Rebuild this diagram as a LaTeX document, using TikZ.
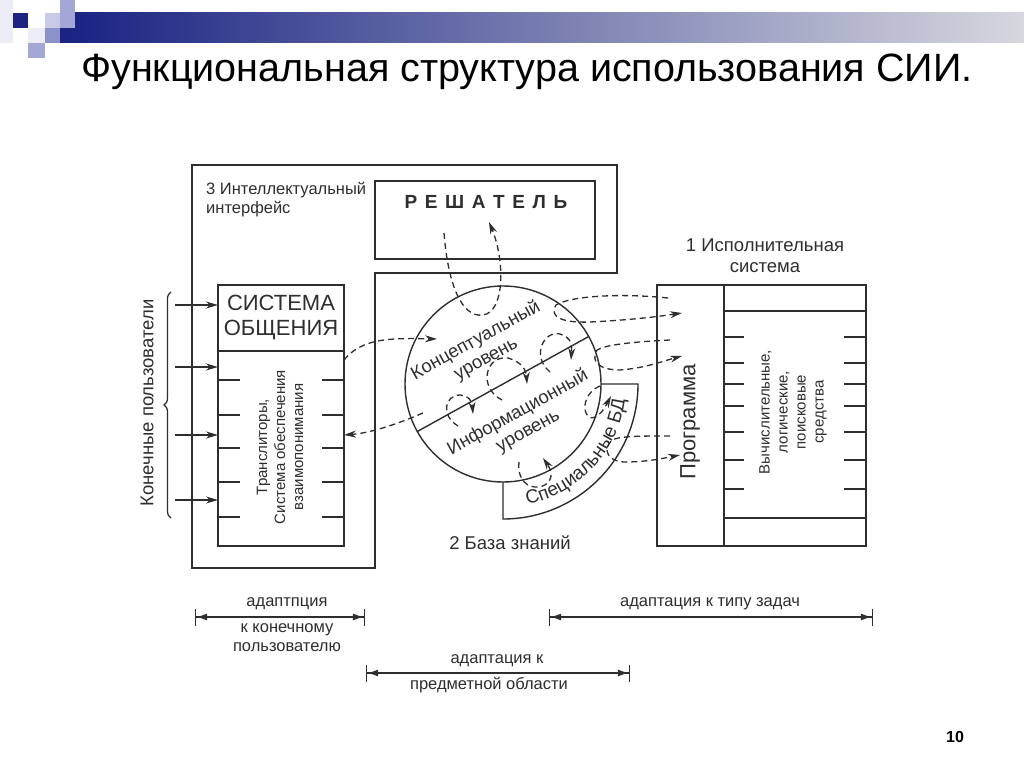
\documentclass[tikz,border=0pt]{standalone}
\usepackage{fontspec}
\setmainfont{Liberation Sans}
\usepackage{xcolor}
\definecolor{ink}{HTML}{2E2E2E}
\definecolor{navy}{HTML}{1B2483}
\definecolor{barend}{HTML}{D6D7DE}
\definecolor{pale}{HTML}{ECEDF7}
\definecolor{lilac}{HTML}{C7C9E6}
\definecolor{lav}{HTML}{A3A7D5}
\definecolor{lavdark}{HTML}{8C91C8}
\usetikzlibrary{arrows.meta,positioning,calc,decorations.text,decorations.pathreplacing}
\tikzset{
  >={Stealth[length=12pt,width=7pt]},
  frame/.style  ={draw=ink,line width=1.4pt},
  box/.style    ={draw=ink,line width=1.4pt,fill=none,inner sep=0pt,outer sep=0pt},
  lbl/.style    ={font=\fontsize{16.5}{19}\selectfont,text=ink,align=center,inner sep=0pt},
  lblsm/.style  ={font=\fontsize{15}{18}\selectfont,text=ink,align=center,inner sep=0pt},
  lblmd/.style  ={font=\fontsize{18.5}{21}\selectfont,text=ink,align=center,inner sep=0pt},
  lblbig/.style ={font=\fontsize{22}{25}\selectfont,text=ink,align=center,inner sep=0pt},
  flow/.style   ={->,draw=ink,line width=1.3pt,dash pattern=on 6pt off 4pt},
  feed/.style   ={->,draw=ink,line width=1.3pt},
  span/.style   ={{Bar[width=17pt]Latex[length=11pt,width=7pt]}-{Latex[length=11pt,width=7pt]Bar[width=17pt]},
                  draw=ink,line width=1.2pt},
}

\begin{document}
\begin{tikzpicture}[x=1pt,y=-1pt]
\useasboundingbox[fill=white] (0,0) rectangle (1024,767);
% slide header
\fill[pale] (0,0) rectangle (13,43);
\fill[navy] (13,13) rectangle (28,28);
\fill[lilac] (45,13) rectangle (60,28);
\fill[lav] (60,0) rectangle (75,13);
\fill[lav] (60,13) rectangle (75,28);
\fill[pale] (28,28) rectangle (45,43);
\fill[lavdark] (45,28) rectangle (60,43);
\fill[lav] (28,43) rectangle (45,58);
\fill[navy] (60,28) rectangle (75,43);
\shade[left color=navy,right color=barend] (75,13) rectangle (1024,43);
\node[font=\fontsize{39.5}{44}\selectfont,text=black,inner sep=0pt] (head) at (527,72)
  {Функциональная структура использования СИИ.};
% intelligent interface
\draw[frame] (192,165) -- (617,165) -- (617,273) -- (375,273) -- (375,568) -- (192,568) -- cycle;
\node[lbl,align=left,anchor=north west] (iface) at (206,182) {3 Интеллектуальный\\интерфейс};
\node[box,minimum width=220pt,minimum height=78pt] (solver) at (485,220) {};
\node[font=\bfseries\fontsize{19}{22}\selectfont,text=ink,inner sep=0pt] (solvtxt) at (486,202)
  {Р\hskip.4em Е\hskip.4em Ш\hskip.4em А\hskip.4em Т\hskip.4em Е\hskip.4em Л\hskip.4em Ь};
% communication system
\node[box,minimum width=126pt,minimum height=261pt] (comm) at (281,415.5) {};
\draw[frame] (218,351) -- (344,351);
\node[lblbig] (commtxt) at (281,318) {СИСТЕМА\\ОБЩЕНИЯ};
\foreach \y in {380,415,448,482,517} {
  \draw[frame] (218,\y) -- ++(22,0);
  \draw[frame] (344,\y) -- ++(-22,0);
}
\node[lblsm,rotate=90] (trans) at (280,447) {Транслиторы,\\Система обеспечения\\взаимопонимания};
% end users
\foreach \y in {305,367,435,500} {
  \coordinate (u\y) at (175,\y);
  \draw[feed] (u\y) -- (u\y -| comm.west);
}
\draw[ink,line width=1.2pt,decorate,decoration={brace,amplitude=7pt}] (171,518) -- (171,292);
\node[lblmd,rotate=90] (users) at (147,403) {Конечные пользователи};
% knowledge base
\node[draw=ink,line width=1.4pt,circle,minimum size=196pt,inner sep=0pt,outer sep=0pt] (kb) at (503,384) {};
\draw[frame] (kb.209) -- (kb.29);
\draw[frame] (kb.east) -- ++(37,0) arc[start angle=0,end angle=90,radius=135] -- (kb.south);
\path[decorate,decoration={text along path,text align=center,
  text={|\fontsize{19}{19}\selectfont\color{ink}|Специальные БД}}]
  ($(kb.center)+(84:123)$) arc[start angle=84,end angle=2,radius=123];
\node[lblmd,rotate=29] (concept) at (481,350) {Концептуальный\\уровень};
\node[lblmd,rotate=29] (info) at (523,422) {Информационный\\уровень};
\node[lblmd] (kbtxt) at (510,543) {2 База знаний};
% executive system
\node[box,minimum width=209pt,minimum height=261pt] (prog) at (761.5,415.5) {};
\draw[frame] (724,285) -- (724,546);
\draw[frame] (724,311) -- (866,311);
\draw[frame] (724,518) -- (866,518);
\foreach \y in {337,363,384,406,432,460,489} {
  \draw[frame] (724,\y) -- ++(20,0);
  \draw[frame] (866,\y) -- ++(-22,0);
}
\node[lblbig,rotate=90] (progtxt) at (690,422) {Программа};
\node[lblsm,rotate=90] (tools) at (793,412) {Вычислительные,\\логические,\\поисковые\\средства};
\node[lblmd] (exec) at (765,256) {1 Исполнительная\\система};
% dashed flows
\draw[flow] (344,360) .. controls (362,338) and (390,338) .. (437,339);
\draw[flow] (423,413) .. controls (395,425) and (370,433) .. (344,435);
\draw[flow] (444,233) .. controls (448,285) and (462,318) .. (483,315)
  .. controls (505,312) and (505,260) .. (489,222);
\draw[flow] (550,372) .. controls (530,355) and (545,330) .. (560,334)
  .. controls (572,338) and (572,345) .. (571,360);
\draw[flow] (502,400) .. controls (478,388) and (485,355) .. (508,358)
  .. controls (522,362) and (526,370) .. (527,384);
\draw[flow] (458,426) .. controls (440,415) and (445,395) .. (460,395)
  .. controls (470,396) and (472,402) .. (473,414);
\draw[flow] (668,298) .. controls (620,293) and (570,296) .. (556,305)
  .. controls (548,318) and (565,323) .. (590,322) .. controls (630,320) and (655,317) .. (682,313);
\draw[flow] (670,340) .. controls (630,342) and (605,345) .. (597,350)
  .. controls (590,362) and (600,370) .. (620,370) .. controls (645,368) and (660,362) .. (682,356);
\draw[flow] (670,436) .. controls (640,436) and (620,436) .. (612,440)
  .. controls (602,450) and (608,462) .. (625,462) .. controls (645,462) and (660,459) .. (680,455);
\draw[flow] (600,386) .. controls (572,398) and (588,440) .. (611,396);
\draw[flow] (519,462) .. controls (515,500) and (565,490) .. (543,458);
% adaptation spans
\coordinate (d1a) at (195,617); \coordinate (d1b) at (365,617);
\coordinate (d2a) at (549,617); \coordinate (d2b) at (873,617);
\coordinate (d3a) at (366,673); \coordinate (d3b) at (630,673);
\draw[span] (d1a) -- (d1b);
\draw[span] (d2a) -- (d2b);
\draw[span] (d3a) -- (d3b);
\node[lbl] (a1top) at (287,604) {адаптпция};
\node[lbl] (a1bot) at (287,638) {к конечному\\пользователю};
\node[lbl] (a2) at (710,604) {адаптация к типу задач};
\node[lbl] (a3top) at (497,661) {адаптация к};
\node[lbl] (a3bot) at (489,685) {предметной области};
\node[font=\bfseries\fontsize{16}{18}\selectfont,inner sep=0pt] (page) at (955,737) {10};
\end{tikzpicture}
\end{document}
